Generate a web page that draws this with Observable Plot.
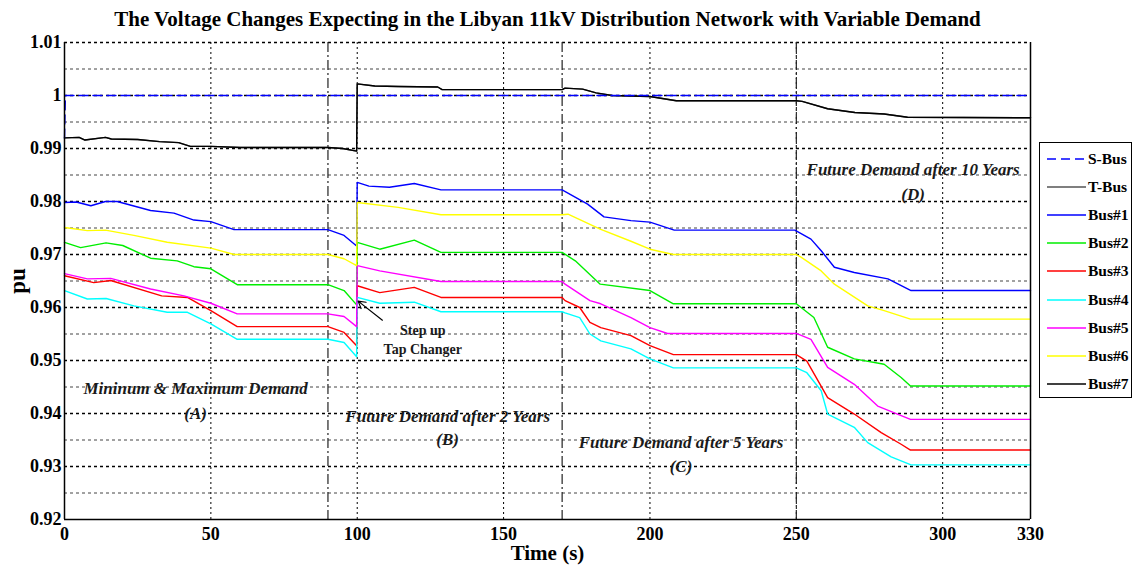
<!DOCTYPE html>
<html>
<head>
<meta charset="utf-8">
<script src="https://cdn.jsdelivr.net/npm/d3@7"></script>
<script src="https://cdn.jsdelivr.net/npm/@observablehq/plot@0.6"></script>
<style>
  html, body { margin: 0; padding: 0; background: #fff; }
  #wrap { position: relative; width: 1137px; height: 566px; overflow: hidden; font-family: "Liberation Serif", "Times New Roman", serif; }
  #legend { position: absolute; left: 1039px; top: 142px; width: 93px; height: 256px; border: 1.5px solid #000; background: #fff; box-sizing: border-box; }
  .item { position: absolute; left: 0; height: 20px; display: flex; align-items: center; font-weight: bold; font-size: 15.5px; color: #000; }
  .item svg { margin-left: 7px; margin-right: 2px; }
</style>
</head>
<body>
<div id="wrap"><div id="legend"></div></div>
<script>
// ---- data ----
const titleText = "The Voltage Changes Expecting in the Libyan 11kV Distribution Network with Variable Demand";
const xLabel = "Time (s)";
const yLabel = "pu";
const xTicks = [0, 50, 100, 150, 200, 250, 300, 330];
const yTicks = [0.92, 0.93, 0.94, 0.95, 0.96, 0.97, 0.98, 0.99, 1.0, 1.01];
const yMinor = [0.925, 0.935, 0.945, 0.955, 0.965, 0.975, 0.985, 0.995, 1.005];
const xGrid = [50, 100, 150, 200, 250, 300];
const phaseBounds = [90, 170, 250];

const seriesNames = ["S-Bus", "T-Bus", "Bus#1", "Bus#2", "Bus#3", "Bus#4", "Bus#5", "Bus#6", "Bus#7"];
const seriesColors = ["#0000ff", "#555555", "#0000ff", "#00ee00", "#ff0000", "#00ffff", "#ff00ff", "#ffff00", "#000000"];

const sBus = [[0, 0.992], [0.3, 1.0], [330, 1.0]];
const tBus = [[0,0.9920],[5,0.9921],[7,0.9916],[14,0.9921],[16,0.9918],[25,0.9917],[32.5,0.9913],[39,0.9911],[43,0.9904],[50,0.9904],[60,0.9902],[90,0.9902],[95,0.9900],[99.8,0.9895],[100,1.0022],[106,1.0018],[114,1.0017],[127.5,1.0016],[129,1.0011],[170,1.0011],[171,1.0014],[177,1.0012],[181.6,1.0005],[187,1.0000],[200,0.9998],[209,0.9990],[250,0.9990],[252,0.9989],[260.7,0.9975],[270,0.9968],[280,0.9965],[288,0.9959],[330,0.9958]];
const bus1 = [[0,0.9798],[4,0.9799],[9,0.9792],[14,0.9800],[18,0.9800],[29.4,0.9783],[37.4,0.9778],[44.2,0.9765],[50,0.9762],[57.9,0.9747],[90,0.9747],[95.5,0.9736],[99.8,0.9716],[100,0.9836],[104,0.9829],[111,0.9827],[119.5,0.9834],[128.6,0.9822],[170,0.9822],[178.7,0.9795],[184.3,0.9771],[193.5,0.9764],[200,0.9761],[208.3,0.9746],[249.5,0.9746],[255,0.9729],[258.5,0.9707],[263,0.9676],[269.8,0.9666],[281.3,0.9654],[289.2,0.9632],[330,0.9632]];
const bus2 = [[0,0.9723],[5.5,0.9713],[14.2,0.9722],[19.9,0.9717],[29.4,0.9693],[38.5,0.9688],[44.2,0.9677],[50,0.9673],[59,0.9643],[90,0.9643],[95.5,0.9632],[99.8,0.9605],[100,0.9723],[107.7,0.9710],[119.5,0.9727],[128.6,0.9704],[170,0.9704],[174.5,0.9688],[183,0.9644],[200,0.9632],[208,0.9607],[250,0.9607],[256,0.9581],[260.7,0.9525],[269.8,0.9503],[280,0.9493],[285.8,0.9468],[289,0.9452],[330,0.9452]];
const bus3 = [[0,0.9660],[10,0.9647],[15.8,0.9651],[33.2,0.9622],[42,0.9619],[50,0.9594],[59,0.9564],[90,0.9564],[95.5,0.9553],[99.8,0.9528],[100,0.9641],[107.7,0.9628],[119.5,0.9638],[128.6,0.9619],[170,0.9619],[171,0.9613],[176,0.9600],[179.5,0.9572],[183.2,0.9562],[193.5,0.9547],[200,0.9528],[208,0.9511],[250,0.9511],[253.6,0.9499],[260.7,0.9430],[269.8,0.9399],[279,0.9364],[285.8,0.9342],[289,0.9331],[330,0.9331]];
const bus4 = [[0,0.9632],[7.8,0.9616],[14.2,0.9617],[23.7,0.9603],[35.1,0.9591],[42,0.9591],[50,0.9569],[59,0.9540],[90,0.9540],[95.5,0.9534],[99.8,0.9507],[100,0.9619],[107.7,0.9608],[119.5,0.9610],[128.6,0.9592],[170,0.9592],[171,0.9590],[176,0.9581],[179.5,0.9550],[183.2,0.9537],[193.5,0.9522],[200,0.9503],[208,0.9486],[250,0.9486],[253.6,0.9477],[258.5,0.9443],[260.7,0.9399],[269.8,0.9374],[274.4,0.9345],[282.4,0.9318],[289.2,0.9303],[330,0.9303]];
const bus5 = [[0,0.9664],[7.8,0.9654],[15.8,0.9655],[29.4,0.9635],[40.8,0.9622],[50,0.9608],[59,0.9588],[90,0.9588],[95.5,0.9583],[99.8,0.9564],[100,0.9679],[107.7,0.9669],[128.6,0.9649],[170,0.9649],[171,0.9644],[179.5,0.9613],[183.2,0.9607],[193.5,0.9581],[200,0.9562],[206,0.9551],[250,0.9551],[255,0.9540],[260.7,0.9487],[269.8,0.9455],[277.8,0.9414],[289,0.9389],[330,0.9389]];
const bus6 = [[0,0.9751],[7.8,0.9745],[14,0.9746],[23.7,0.9736],[35.1,0.9723],[50,0.9712],[57.9,0.9700],[90,0.9700],[95.5,0.9692],[99.8,0.9679],[100,0.9798],[114,0.9789],[128.6,0.9775],[170,0.9775],[172,0.9776],[183,0.9748],[193.5,0.9725],[200,0.9710],[208,0.9700],[250,0.9700],[251.6,0.9695],[258.5,0.9669],[263,0.9644],[274.4,0.9603],[280,0.9594],[289,0.9578],[330,0.9578]];
const bus7 = tBus;
const seriesData = [sBus, tBus, bus1, bus2, bus3, bus4, bus5, bus6, bus7];

const phaseLabels = [
  {t: 44.8, v: 0.9447, text: "Mininum & Maximum Demand"},
  {t: 44.8, v: 0.9399, text: "(A)"},
  {t: 130.9, v: 0.9394, text: "Future Demand after 2 Years"},
  {t: 130.9, v: 0.9350, text: "(B)"},
  {t: 210.6, v: 0.9345, text: "Future Demand after 5 Years"},
  {t: 210.6, v: 0.9299, text: "(C)"},
  {t: 289.9, v: 0.9860, text: "Future Demand after 10 Years"},
  {t: 289.9, v: 0.9814, text: "(D)"}
];
const tapLabels = [
  {t: 122.4, v: 0.9556, text: "Step up"},
  {t: 122.4, v: 0.9521, text: "Tap Changer"}
];
const tapArrow = [{t1: 108.6, v1: 0.9576, t2: 100.3, v2: 0.9612}];

// ---- chart ----
const lineMarks = seriesData.map((d, i) => Plot.line(d, {
  x: p => p[0], y: p => p[1], stroke: seriesColors[i],
  strokeWidth: 1.4,
  strokeDasharray: i === 0 ? "9,5" : null
}));

const chart = Plot.plot({
  width: 1137, height: 566,
  marginLeft: 64, marginRight: 107, marginTop: 42, marginBottom: 47,
  style: {fontFamily: "Liberation Serif, Times New Roman, serif", fontWeight: "bold", fontSize: "18px", background: "transparent", color: "#000"},
  x: {domain: [0, 330]},
  y: {domain: [0.92, 1.01]},
  marks: [
    Plot.ruleY(yMinor, {y: d => d, stroke: "#444", strokeDasharray: "3,3", strokeWidth: 1}),
    Plot.ruleY(yTicks.slice(1), {y: d => d, stroke: "#000", strokeDasharray: "3,3", strokeWidth: 1.6}),
    Plot.ruleX(xGrid, {x: d => d, stroke: "#000", strokeDasharray: "2,3", strokeWidth: 1}),
    Plot.ruleX(phaseBounds, {x: d => d, stroke: "#222", strokeDasharray: "10,3,2,3", strokeWidth: 1.2}),
    ...lineMarks.slice(1), lineMarks[0],
    Plot.ruleX([0, 330], {x: d => d, stroke: "#000", strokeWidth: 1.5}),
    Plot.ruleY([0.92], {y: d => d, stroke: "#000", strokeWidth: 1.5}),
    Plot.axisX({ticks: xTicks, tickSize: 0, tickPadding: 8, tickFormat: d => String(d), label: null, fontSize: 18, fontWeight: "bold"}),
    Plot.axisY({ticks: yTicks, tickSize: 0, tickPadding: 3, tickFormat: d => String(+d.toFixed(2)), label: null, fontSize: 18, fontWeight: "bold"}),
    Plot.text(phaseLabels, {x: "t", y: "v", text: "text", fontSize: 17, fontStyle: "italic", fontWeight: "bold", fill: "#1a1a1a"}),
    Plot.text(tapLabels, {x: "t", y: "v", text: "text", fontSize: 14, fontWeight: "bold", fill: "#1a1a1a"}),
    Plot.arrow(tapArrow, {x1: "t1", y1: "v1", x2: "t2", y2: "v2", stroke: "#000", strokeWidth: 1.2, headLength: 10}),
    Plot.text([titleText], {frameAnchor: "top", lineAnchor: "middle", dy: -23, fontSize: 21, fontWeight: "bold"}),
    Plot.text([yLabel], {frameAnchor: "left", lineAnchor: "middle", textAnchor: "middle", dx: -47, rotate: -90, fontSize: 23, fontWeight: "bold"}),
    Plot.text([xLabel], {frameAnchor: "bottom", lineAnchor: "middle", dy: 34, fontSize: 21, fontWeight: "bold"})
  ]
});
document.getElementById("wrap").prepend(chart);

// ---- legend ----
const legend = document.getElementById("legend");
seriesNames.forEach((name, i) => {
  const item = document.createElement("div");
  item.className = "item";
  item.style.top = (6 + i * 28.1) + "px";
  const dash = i === 0 ? ' stroke-dasharray="9,5"' : '';
  item.innerHTML = `<svg width="39" height="4"><line x1="0" y1="2" x2="39" y2="2" stroke="${seriesColors[i]}" stroke-width="1.6"${dash}/></svg><span>${name}</span>`;
  legend.appendChild(item);
});
</script>
</body>
</html>
